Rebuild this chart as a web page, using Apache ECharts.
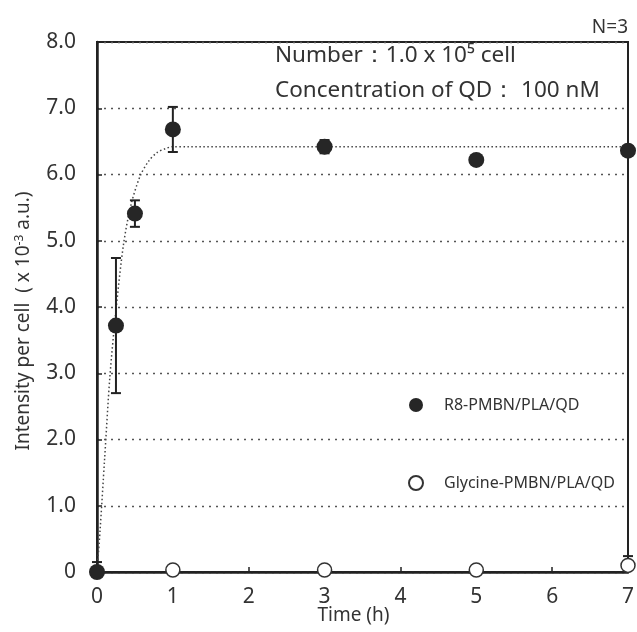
<!DOCTYPE html>
<html>
<head>
<meta charset="utf-8">
<script src="https://cdn.jsdelivr.net/npm/echarts@6/dist/echarts.min.js"></script>
<style>html,body{margin:0;padding:0;background:#fff;}#c{width:637px;height:632px;}</style>
</head>
<body>
<div id="c"></div>
<script>
// Data
const r8Time = [0, 0.25, 0.5, 1, 3, 5, 7];
const r8Value = [0, 3.72, 5.41, 6.68, 6.42, 6.22, 6.36];
const r8ErrLow = [0, 1.02, 0.2, 0.34, 0.1, 0, 0.05];
const r8ErrHigh = [0.15, 1.02, 0.2, 0.34, 0.1, 0, 0.05];
const glyTime = [1, 3, 5, 7];
const glyValue = [0.03, 0.03, 0.03, 0.1];
const glyErrHigh = [0, 0, 0, 0.14];
const fitTime = [0, 0.04, 0.1, 0.17, 0.25, 0.35, 0.45, 0.57, 0.68, 0.79, 0.9, 1.0, 1.2, 7];
const fitValue = [0, 0.62, 1.7, 2.95, 3.95, 4.95, 5.55, 5.98, 6.2, 6.33, 6.39, 6.42, 6.42, 6.42];
const yTicks = [0, 1, 2, 3, 4, 5, 6, 7, 8];

const FONT = '"Noto Sans", "Open Sans", sans-serif';
const chart = echarts.init(document.getElementById('c'));

const errData = [];
r8Time.forEach((t, i) => { if (r8ErrLow[i] > 0 || r8ErrHigh[i] > 0) errData.push([t, r8Value[i] - r8ErrLow[i], r8Value[i] + r8ErrHigh[i]]); });
glyTime.forEach((t, i) => { if (glyErrHigh[i] > 0) errData.push([t, glyValue[i], glyValue[i] + glyErrHigh[i]]); });

chart.setOption({
  animation: false,
  backgroundColor: '#fff',
  textStyle: { fontFamily: FONT },
  grid: { left: 97, right: 9, top: 42, bottom: 60, show: true, borderColor: '#222', borderWidth: 2, backgroundColor: 'transparent', containLabel: false, outerBoundsMode: 'none' },
  xAxis: {
    type: 'value', min: 0, max: 7, interval: 1,
    name: 'Time (h)', nameLocation: 'middle', nameGap: 34, nameMoveOverlap: false,
    nameTextStyle: { fontSize: 19, color: '#333', fontFamily: FONT, padding: [0, 18, 0, 0] },
    axisLine: { show: true, lineStyle: { color: '#222', width: 2.5 } },
    axisTick: { show: true, inside: true, length: 5, lineStyle: { color: '#222', width: 1.5 } },
    axisLabel: { fontSize: 21, color: '#333', margin: 15, fontFamily: FONT },
    splitLine: { show: false }
  },
  yAxis: {
    type: 'value', min: 0, max: 8, interval: 1,
    axisLine: { show: true, lineStyle: { color: '#222', width: 2.5 } },
    axisTick: { show: true, inside: true, length: 5, lineStyle: { color: '#222', width: 1.5 } },
    axisLabel: { fontSize: 21, color: '#333', margin: 21, fontFamily: FONT, formatter: v => yTicks.includes(v) ? (v === 0 ? '0' : v.toFixed(1)) : '' },
    splitLine: { show: true, lineStyle: { color: '#555', width: 1.3, type: [2, 5] } }
  },
  legend: {
    orient: 'vertical', left: 403, top: 392, itemGap: 62, itemWidth: 14, itemHeight: 14,
    textStyle: { fontSize: 16, color: '#333', fontFamily: FONT, padding: [0, 0, 0, 16] },
    data: [
      { name: 'R8-PMBN/PLA/QD', icon: 'circle' },
      { name: 'Glycine-PMBN/PLA/QD', icon: 'circle' }
    ]
  },
  graphic: [
    { type: 'text', right: 9, top: 18, style: { text: 'N=3', fontSize: 19, fill: '#333', fontFamily: FONT } },
    { type: 'text', left: 275, top: 44, style: { text: 'Number：1.0 x 10⁵ cell', fontSize: 22.5, fill: '#333', fontFamily: FONT } },
    { type: 'text', left: 275, top: 79, style: { text: 'Concentration of QD： 100 nM', fontSize: 22.5, fill: '#333', fontFamily: FONT } },
    { type: 'text', x: 24, y: 321, rotation: Math.PI / 2,
      style: { text: '{a|Intensity per cell  ( x 10}{s|-3}{a| a.u.)}', align: 'center', verticalAlign: 'middle', fill: '#333', fontFamily: FONT,
        rich: { a: { fontSize: 19, fill: '#333', fontFamily: FONT }, s: { fontSize: 12, fill: '#333', verticalAlign: 'top', padding: [0, 0, 9, 0], fontFamily: FONT } } } }
  ],
  series: [
    {
      name: 'fit', type: 'line', smooth: 0.3, showSymbol: false, silent: true, z: 2,
      data: fitTime.map((t, i) => [t, fitValue[i]]),
      lineStyle: { color: '#444', width: 1.5, type: [1.5, 2.5] }
    },
    {
      name: 'err', type: 'custom', z: 3, clip: false, silent: true,
      data: errData,
      renderItem: (params, api) => {
        const x = api.value(0);
        const lo = api.coord([x, api.value(1)]);
        const hi = api.coord([x, api.value(2)]);
        const w = 5;
        const st = { stroke: '#222', lineWidth: 2 };
        return { type: 'group', children: [
          { type: 'line', shape: { x1: lo[0], y1: lo[1], x2: hi[0], y2: hi[1] }, style: st },
          { type: 'line', shape: { x1: lo[0] - w, y1: lo[1], x2: lo[0] + w, y2: lo[1] }, style: st },
          { type: 'line', shape: { x1: hi[0] - w, y1: hi[1], x2: hi[0] + w, y2: hi[1] }, style: st }
        ] };
      }
    },
    {
      name: 'Glycine-PMBN/PLA/QD', type: 'scatter', z: 4, clip: false, symbol: 'circle', symbolSize: 14,
      data: glyTime.map((t, i) => [t, glyValue[i]]),
      itemStyle: { color: '#fff', borderColor: '#333', borderWidth: 1.5, opacity: 1 }
    },
    {
      name: 'R8-PMBN/PLA/QD', type: 'scatter', z: 5, clip: false, symbol: 'circle', symbolSize: 16,
      data: r8Time.map((t, i) => [t, r8Value[i]]),
      itemStyle: { color: '#262626', borderColor: '#262626', borderWidth: 0, opacity: 1 }
    }
  ]
});
</script>
</body>
</html>
